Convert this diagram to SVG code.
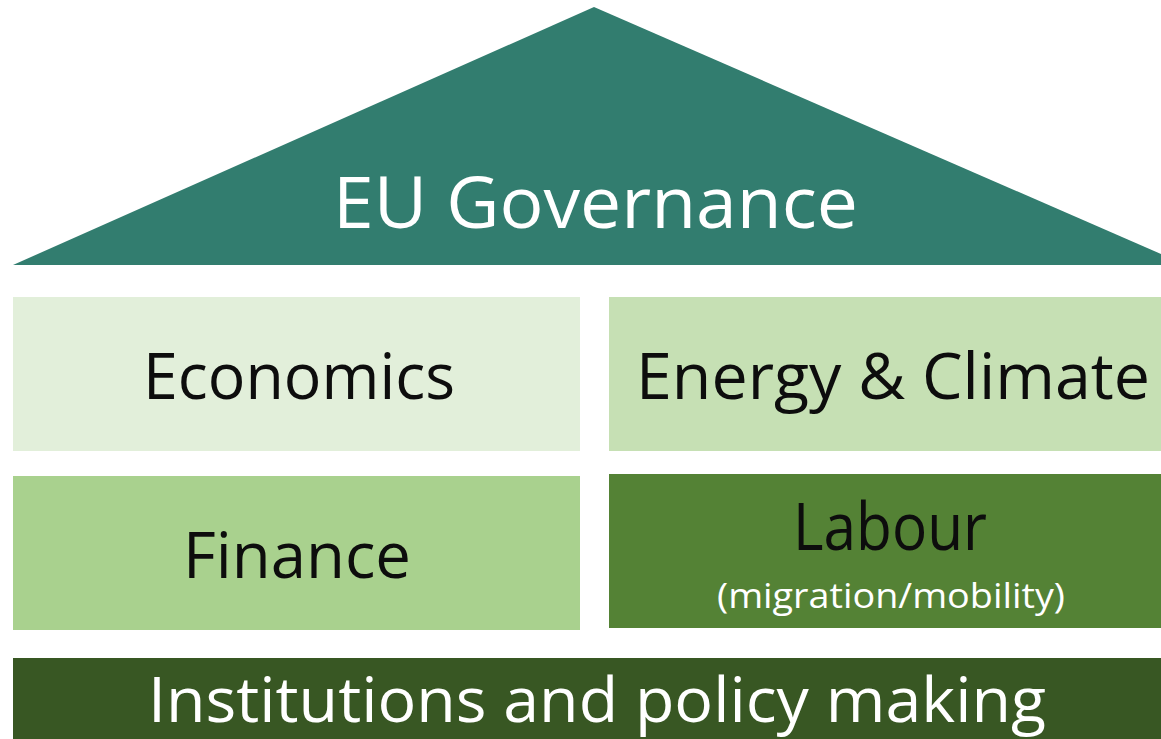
<svg xmlns="http://www.w3.org/2000/svg" width="1161" height="739" viewBox="0 0 1161 739">
<style>
.t{font-family:"Open Sans","Liberation Sans",sans-serif;text-anchor:middle}
.w{fill:#ffffff}
.k{fill:#0d0d0d}
</style>
<rect width="1161" height="739" fill="#ffffff"/>
<g id="roof">
<polygon points="13,265 594,7 1161,254 1161,265" fill="#327D6F"/>
<text class="t w" x="595.5" y="228" font-size="72" textLength="525" lengthAdjust="spacingAndGlyphs">EU Governance</text>
</g>
<g id="economics">
<rect x="13" y="297" width="567" height="154" fill="#E2EFDA"/>
<text class="t k" x="299" y="399" font-size="64" textLength="312" lengthAdjust="spacingAndGlyphs">Economics</text>
</g>
<g id="energy">
<rect x="609" y="297" width="552" height="154" fill="#C6E0B4"/>
<text class="t k" x="893" y="399" font-size="64" textLength="514" lengthAdjust="spacingAndGlyphs">Energy &amp; Climate</text>
</g>
<g id="finance">
<rect x="13" y="476" width="567" height="154" fill="#A9D18E"/>
<text class="t k" x="297" y="578" font-size="64" textLength="228" lengthAdjust="spacingAndGlyphs">Finance</text>
</g>
<g id="labour">
<rect x="609" y="474" width="552" height="154" fill="#548235"/>
<text class="t k" x="890" y="550" font-size="65" textLength="194" lengthAdjust="spacingAndGlyphs">Labour</text>
<text class="t w" x="891" y="608" font-size="35" textLength="348" lengthAdjust="spacingAndGlyphs">(migration/mobility)</text>
</g>
<g id="institutions">
<rect x="13" y="658" width="1148" height="81" fill="#385723"/>
<text class="t w" x="597" y="722" font-size="62" textLength="898" lengthAdjust="spacingAndGlyphs">Institutions and policy making</text>
</g>
<g id="connectors"></g>
</svg>
